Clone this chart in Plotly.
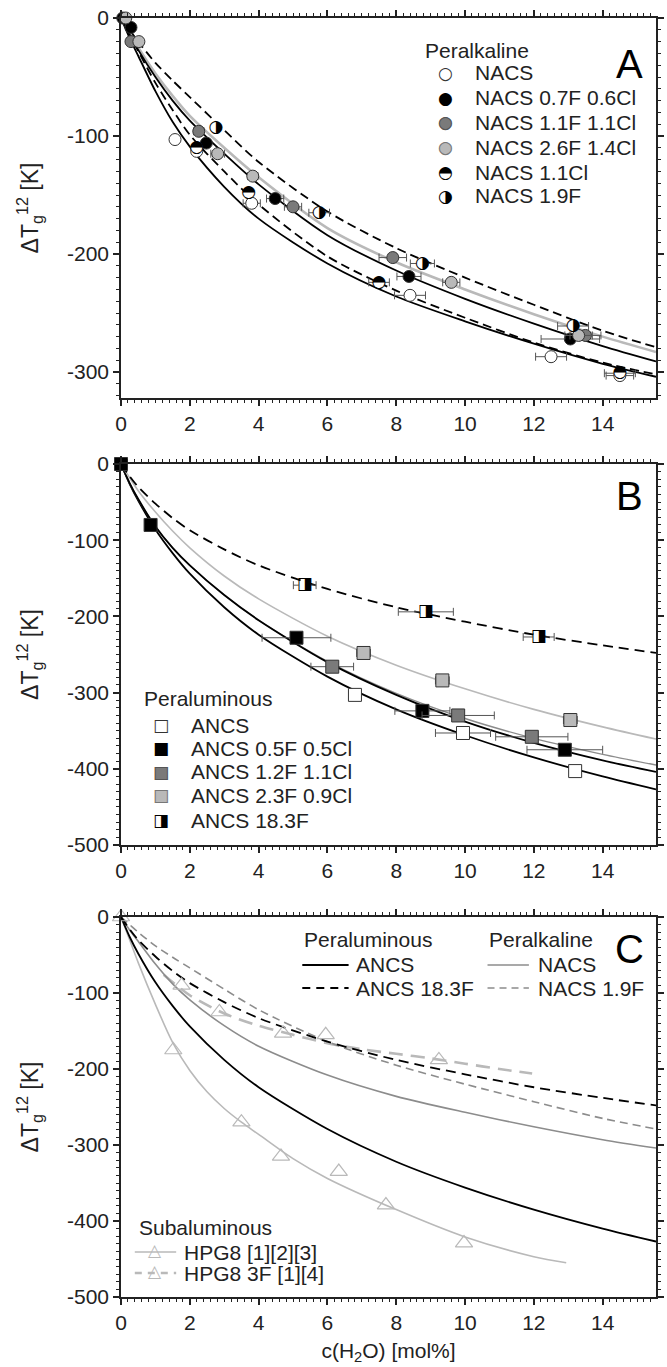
import plotly.graph_objects as go

# ---------------- data ----------------
CURVE_X = [0, 0.25, 0.5, 1, 1.5, 2, 3, 4, 6, 8, 10, 12, 14, 15.55]

# Panel A (peralkaline) fitted curves
A_fit_NACS = [0, -17, -32, -62, -88, -109, -143, -170, -208, -236, -257, -276, -293, -304]
A_fit_11Cl = [0, -14, -28, -55, -78, -99, -130, -158, -202, -231, -254, -275, -292, -302]
A_fit_07F = [0, -14, -27, -50, -70, -87, -115, -141, -184, -214, -238, -259, -278, -291]
A_fit_26F = [0, -12, -25, -47, -66, -83, -110, -135, -178, -207, -230, -251, -270, -283]
A_fit_19F = [0, -10, -20, -38, -53, -67, -95, -122, -164, -195, -220, -243, -265, -279]

# Panel A measured points
A_NACS_x = [1.57, 2.2, 3.8, 8.4, 12.5, 14.5]
A_NACS_y = [-103, -113, -157, -235, -287, -303]
A_NACS_ex = [0, 0, 0.25, 0.45, 0.45, 0.4]
A_07F_x = [0.05, 0.29, 2.48, 4.48, 8.37, 13.06]
A_07F_y = [0, -8, -106, -153, -219, -272]
A_07F_ex = [0, 0, 0, 0.25, 0.35, 0.85]
A_11F_x = [0.29, 2.26, 5.0, 7.9, 13.5]
A_11F_y = [-20, -96, -160, -203, -269]
A_11F_ex = [0, 0.15, 0.25, 0.4, 0.45]
A_26F_x = [0.14, 0.52, 2.81, 3.83, 9.6, 13.3]
A_26F_y = [0, -20, -115, -134, -224, -269]
A_26F_ex = [0, 0, 0.2, 0.15, 0.25, 0.4]
A_11Cl_x = [2.2, 3.71, 7.5, 14.5]
A_11Cl_y = [-110, -148, -224, -301]
A_11Cl_ex = [0, 0, 0.3, 0.45]
A_19F_x = [2.76, 5.76, 8.76, 13.14]
A_19F_y = [-93, -165, -208, -261]
A_19F_ex = [0, 0.3, 0.35, 0.45]

# Panel B (peraluminous) fitted curves
B_fit_ANCS = [0, -26, -48, -86, -117, -144, -188, -224, -279, -322, -356, -385, -410, -427]
B_fit_05F = [0, -25, -46, -82, -110, -133, -172, -205, -260, -303, -338, -366, -389, -404]
B_fit_12F = [0, -25, -46, -82, -110, -133, -172, -205, -259, -301, -334, -360, -381, -395]
B_fit_23F = [0, -18, -35, -63, -88, -110, -147, -177, -226, -264, -295, -322, -345, -361]
B_fit_183F = [0, -16, -30, -52, -71, -87, -112, -133, -164, -188, -207, -224, -238, -248]

# Panel B measured points
B_ANCS_x = [6.8, 9.94, 13.2]
B_ANCS_y = [-303, -353, -403]
B_ANCS_ex = [0, 0.8, 0]
B_05F_x = [0, 0.86, 5.1, 8.76, 12.9]
B_05F_y = [0, -80, -228, -324, -375]
B_05F_ex = [0, 0, 1.0, 0.8, 1.1]
B_12F_x = [6.14, 9.8, 11.94]
B_12F_y = [-266, -330, -358]
B_12F_ex = [0.62, 1.05, 1.05]
B_23F_x = [7.05, 9.34, 13.06]
B_23F_y = [-248, -284, -336]
B_23F_ex = [0.2, 0.2, 0.2]
B_183F_x = [5.34, 8.86, 12.14]
B_183F_y = [-159, -194, -227]
B_183F_ex = [0.33, 0.8, 0.45]

# Panel C (subaluminous HPG8)
C_HPG8_fit_x = [0, 0.25, 0.5, 1, 1.5, 2, 2.5, 3, 3.5, 4, 5, 6, 8, 10, 12, 12.94]
C_HPG8_fit_y = [0, -30, -60, -115, -165, -202, -230, -252, -270, -286, -318, -344, -385, -421, -447, -455]
C_HPG8F_fit_x = [1.24, 2, 3, 4, 5, 6, 7, 8, 9, 10, 11, 11.95]
C_HPG8F_fit_y = [-76, -103, -127, -143, -155, -166, -174, -180, -186, -193, -200, -206]
C_HPG8_x = [0, 1.52, 3.5, 4.65, 6.33, 7.7, 9.97]
C_HPG8_y = [0, -175, -270, -315, -335, -379, -429]
C_HPG8F_x = [1.76, 2.86, 4.71, 5.95, 9.24]
C_HPG8F_y = [-90, -125, -153, -155, -188]

X_TICKS = [0, 2, 4, 6, 8, 10, 12, 14]
A_Y_TICKS = [0, -100, -200, -300]
BC_Y_TICKS = [0, -100, -200, -300, -400, -500]

# ---------------- style ----------------
FONT = "Liberation Sans, Arial, sans-serif"
GLYPH = "DejaVu Sans"
BLACK = "#000000"
DGRAY = "#7a7a7a"
LGRAY = "#b9b9b9"
MGRAY = "#8c8c8c"
EBAR = "#555555"
DASH_A = "9px,5px"
DASH_B = "10px,6px"

W, H = 667, 1367
ML, MR, MT, MB = 121, 3, 18, 70
PW, PH = W - ML - MR, H - MT - MB


def P(x, y):
    return (x - ML) / PW, (H - MB - y) / PH


fig = go.Figure()


def curve(x, y, ax, color, width=1.8, dash="solid"):
    fig.add_trace(go.Scatter(x=x, y=y, mode="lines", xaxis="x" + ax, yaxis="y" + ax,
                             line=dict(color=color, width=width, dash=dash, shape="spline", smoothing=0.8),
                             showlegend=False, hoverinfo="skip"))


def points(x, y, ex, ax, fill, symbol="circle", size=12, outline="#333333"):
    fig.add_trace(go.Scatter(x=x, y=y, mode="markers", xaxis="x" + ax, yaxis="y" + ax,
                             marker=dict(symbol=symbol, size=size, color=fill,
                                         line=dict(color=outline, width=1)),
                             error_x=dict(type="data", array=ex, color=EBAR, thickness=1, width=4),
                             showlegend=False, cliponaxis=False))


def halfpoints(x, y, ex, ax, glyph, size):
    fig.add_trace(go.Scatter(x=x, y=y, mode="markers", xaxis="x" + ax, yaxis="y" + ax,
                             marker=dict(size=12, color="rgba(255,255,255,1)", line=dict(width=0)),
                             error_x=dict(type="data", array=ex, color=EBAR, thickness=1, width=4),
                             showlegend=False, cliponaxis=False))
    fig.add_trace(go.Scatter(x=x, y=y, mode="text", xaxis="x" + ax, yaxis="y" + ax,
                             text=[glyph] * len(x), textposition="middle center",
                             textfont=dict(family=GLYPH, size=size, color=BLACK),
                             showlegend=False, cliponaxis=False))


# Panel A
curve(CURVE_X, A_fit_NACS, "", BLACK)
curve(CURVE_X, A_fit_11Cl, "", BLACK, dash=DASH_A)
curve(CURVE_X, A_fit_26F, "", LGRAY, width=2.6)
curve(CURVE_X, A_fit_07F, "", BLACK)
curve(CURVE_X, A_fit_19F, "", BLACK, dash=DASH_A)
points(A_NACS_x, A_NACS_y, A_NACS_ex, "", "white")
points(A_07F_x, A_07F_y, A_07F_ex, "", BLACK)
points(A_11F_x, A_11F_y, A_11F_ex, "", DGRAY)
points(A_26F_x, A_26F_y, A_26F_ex, "", LGRAY)
halfpoints(A_11Cl_x, A_11Cl_y, A_11Cl_ex, "", "◓", 17)
halfpoints(A_19F_x, A_19F_y, A_19F_ex, "", "◑", 17)

# Panel B
curve(CURVE_X, B_fit_ANCS, "2", BLACK)
curve(CURVE_X, B_fit_12F, "2", MGRAY, width=1.4)
curve(CURVE_X, B_fit_05F, "2", BLACK)
curve(CURVE_X, B_fit_23F, "2", LGRAY, width=1.6)
curve(CURVE_X, B_fit_183F, "2", BLACK, dash=DASH_B)
points(B_ANCS_x, B_ANCS_y, B_ANCS_ex, "2", "white", "square", 13)
points(B_05F_x, B_05F_y, B_05F_ex, "2", BLACK, "square", 13)
points(B_12F_x, B_12F_y, B_12F_ex, "2", DGRAY, "square", 13)
points(B_23F_x, B_23F_y, B_23F_ex, "2", LGRAY, "square", 13)
halfpoints(B_183F_x, B_183F_y, B_183F_ex, "2", "◨", 17)

# Panel C
curve(C_HPG8_fit_x, C_HPG8_fit_y, "3", LGRAY, width=1.6)
curve(C_HPG8F_fit_x, C_HPG8F_fit_y, "3", LGRAY, width=2.6, dash="14px,8px")
curve(CURVE_X, A_fit_NACS, "3", MGRAY, width=1.6)
curve(CURVE_X, A_fit_19F, "3", MGRAY, width=1.6, dash="8px,5px")
curve(CURVE_X, B_fit_ANCS, "3", BLACK)
curve(CURVE_X, B_fit_183F, "3", BLACK, dash=DASH_B)
for xs, ys in ((C_HPG8_x, C_HPG8_y), (C_HPG8F_x, C_HPG8F_y)):
    fig.add_trace(go.Scatter(x=xs, y=ys, mode="markers", xaxis="x3", yaxis="y3",
                             marker=dict(symbol="triangle-up-open", size=15, color=LGRAY,
                                         line=dict(color=LGRAY, width=1.2)),
                             showlegend=False, cliponaxis=False))

# ---------------- axes ----------------
doms = {
    "": [(H - MB - 398) / PH, 1.0],
    "2": [(H - MB - 845) / PH, (H - MB - 464) / PH],
    "3": [0.0, (H - MB - 917) / PH],
}
yr = {"": [-322, 0], "2": [-500, 0], "3": [-500, 0]}
ytk = {"": A_Y_TICKS, "2": BC_Y_TICKS, "3": BC_Y_TICKS}

for ax in ["", "2", "3"]:
    xa = dict(domain=[0, 1], range=[0, 15.55], anchor="y" + ax,
              tickvals=X_TICKS, ticktext=[str(v) for v in X_TICKS],
              ticks="outside", ticklen=6, tickwidth=1.5, tickcolor="#222",
              showline=True, linecolor="#222", linewidth=1.6, mirror="ticks",
              showgrid=False, zeroline=False,
              minor=dict(dtick=0.2, tick0=0, ticklen=3, tickwidth=1, tickcolor="#222", ticks="outside", showgrid=False),
              tickfont=dict(family=FONT, size=21, color="#222"))
    ya = dict(domain=doms[ax], range=yr[ax], anchor="x" + ax,
              tickvals=ytk[ax], ticktext=[str(v) for v in ytk[ax]],
              ticks="outside", ticklen=6, tickwidth=1.5, tickcolor="#222",
              showline=True, linecolor="#222", linewidth=1.6, mirror="ticks",
              showgrid=False, zeroline=False,
              minor=dict(dtick=10, tick0=0, ticklen=3, tickwidth=1, tickcolor="#222", ticks="outside", showgrid=False),
              tickfont=dict(family=FONT, size=21, color="#222"),
              title=dict(text="ΔT<sub>g</sub><sup>12</sup> [K]", font=dict(family=FONT, size=23, color="#222"),
                         standoff=22))
    if ax == "3":
        xa["title"] = dict(text="c(H<sub>2</sub>O) [mol%]", font=dict(family=FONT, size=21, color="#222"),
                           standoff=10)
    fig.layout["xaxis" + ax] = xa
    fig.layout["yaxis" + ax] = ya

# ---------------- legends (annotations) ----------------
ann = []
shapes = []


def text(x, y, s, size=21, anchor="left", color="#222", family=FONT):
    px_, py_ = P(x, y)
    ann.append(dict(x=px_, y=py_, xref="paper", yref="paper", text=s, showarrow=False,
                    xanchor=anchor, yanchor="middle", font=dict(family=family, size=size, color=color)))


def glyph(x, y, s, color, size=17):
    text(x, y, s, size=size, anchor="center", color=color, family=GLYPH)


def hline(x0, x1, y, color, width, dash="solid"):
    a0, b0 = P(x0, y)
    a1, _ = P(x1, y)
    shapes.append(dict(type="line", xref="paper", yref="paper", x0=a0, x1=a1, y0=b0, y1=b0,
                       line=dict(color=color, width=width, dash=dash)))


# panel letters
text(637, 64, "A", size=40, anchor="center", color="#000")
text(637, 496, "B", size=40, anchor="center", color="#000")
text(637, 949, "C", size=40, anchor="center", color="#000")

# legend A
text(428, 50, "Peralkaline")
rowsA = [73, 98, 122, 147, 172, 196]
labA = ["NACS", "NACS 0.7F 0.6Cl", "NACS 1.1F 1.1Cl", "NACS 2.6F 1.4Cl", "NACS 1.1Cl", "NACS 1.9F"]
glyph(450, rowsA[0], "○", "#333")
glyph(450, rowsA[1], "●", BLACK)
glyph(450, rowsA[2], "●", DGRAY)
glyph(450, rowsA[2], "○", "#555")
glyph(450, rowsA[3], "●", LGRAY)
glyph(450, rowsA[3], "○", "#777")
glyph(450, rowsA[4], "◓", BLACK)
glyph(450, rowsA[5], "◑", BLACK)
for r, l in zip(rowsA, labA):
    text(478, r, l)

# legend B
text(142, 698, "Peraluminous")
rowsB = [725, 748, 772, 795, 820]
labB = ["ANCS", "ANCS 0.5F 0.5Cl", "ANCS 1.2F 1.1Cl", "ANCS 2.3F 0.9Cl", "ANCS 18.3F"]
glyph(162, rowsB[0], "□", "#333")
glyph(162, rowsB[1], "■", BLACK)
glyph(162, rowsB[2], "■", DGRAY)
glyph(162, rowsB[2], "□", "#555")
glyph(162, rowsB[3], "■", LGRAY)
glyph(162, rowsB[3], "□", "#777")
glyph(162, rowsB[4], "◨", BLACK)
for r, l in zip(rowsB, labB):
    text(190, r, l)

# legend C (top)
text(305, 940, "Peraluminous")
hline(305, 352, 965, BLACK, 1.8)
hline(305, 352, 988, BLACK, 1.8, "8px,6px")
text(357, 965, "ANCS")
text(357, 988, "ANCS 18.3F")
text(492, 940, "Peralkaline")
hline(493, 535, 965, MGRAY, 1.6)
hline(493, 535, 988, MGRAY, 1.6, "7px,5px")
text(542, 965, "NACS")
text(542, 988, "NACS 1.9F")

# legend C (bottom)
text(137, 1227, "Subaluminous")
hline(135, 177, 1252, LGRAY, 1.6)
hline(135, 177, 1273, LGRAY, 2.4, "7px,6px")
glyph(156, 1250, "△", LGRAY, 17)
glyph(156, 1271, "△", LGRAY, 17)
text(183, 1252, "HPG8 [1][2][3]")
text(183, 1273, "HPG8 3F [1][4]")

fig.update_layout(width=W, height=H, margin=dict(l=ML, r=MR, t=MT, b=MB),
                  paper_bgcolor="white", plot_bgcolor="white",
                  annotations=ann, shapes=shapes, showlegend=False,
                  font=dict(family=FONT, size=21, color="#222"))

fig.write_html("out.html")
